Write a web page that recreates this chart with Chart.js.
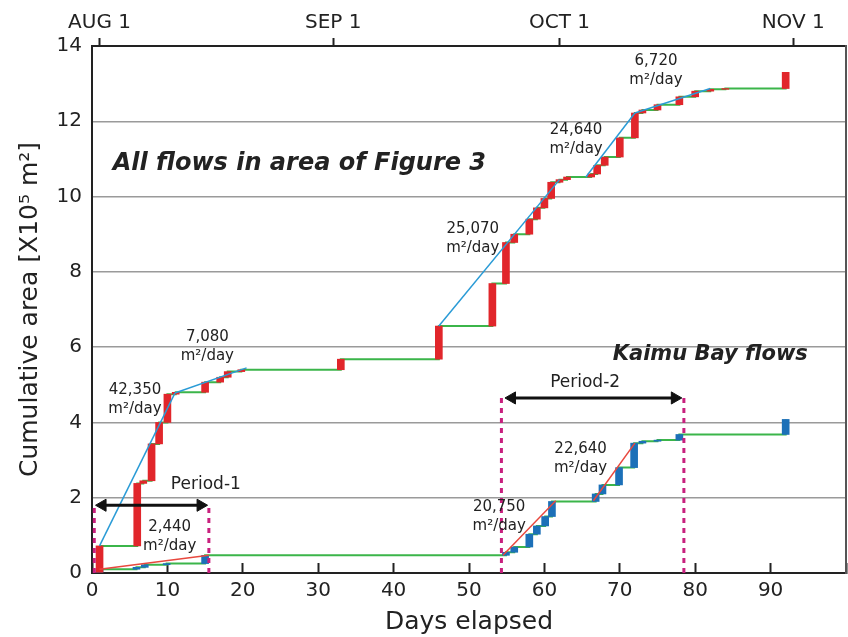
<!DOCTYPE html>
<html>
<head>
<meta charset="utf-8">
<script src="https://cdn.jsdelivr.net/npm/chart.js@4.4.1/dist/chart.umd.min.js"></script>
<style>
  html, body { margin: 0; padding: 0; background: #fff; }
  #wrap { width: 848px; height: 637px; }
</style>
</head>
<body>
<div id="wrap"><canvas id="areaChart"></canvas></div>
<script>
// All flows in area of Figure 3: day of each increment and cumulative area after it [x10^5 m2]
const allDays = [1, 6, 6.8, 7.9, 8.9, 10, 11.1, 15, 17, 18, 19.8, 33, 46, 53.1, 54.9, 56, 58, 59, 60, 60.9, 62, 63, 66.2, 67, 68, 70, 72, 73, 75, 77.9, 80, 82, 84, 92];
const allArea = [0.72, 2.38, 2.45, 3.43, 4.0, 4.75, 4.8, 5.07, 5.2, 5.35, 5.4, 5.68, 6.56, 7.69, 8.78, 9.0, 9.4, 9.7, 9.95, 10.38, 10.45, 10.52, 10.6, 10.83, 11.05, 11.56, 12.22, 12.3, 12.44, 12.65, 12.8, 12.85, 12.87, 13.3];

// Kaimu Bay flows
const kaimuDays = [1, 5.9, 7, 9.9, 15, 54.9, 56, 58, 59, 60.1, 61, 66.8, 67.7, 69.9, 71.9, 73, 75, 77.9, 92];
const kaimuArea = [0.1, 0.15, 0.22, 0.25, 0.47, 0.55, 0.69, 1.03, 1.25, 1.5, 1.9, 2.1, 2.34, 2.8, 3.45, 3.5, 3.53, 3.68, 4.08];

// fitted rate lines: [startDay, startArea, endDay, endArea]
const allFits = [[1, 0.72, 11, 4.78], [11, 4.78, 20.5, 5.45], [46, 6.56, 62, 10.45], [65.5, 10.52, 72, 12.22], [72, 12.22, 82, 12.87]];
const kaimuFits = [[1, 0.1, 15.5, 0.47], [54.5, 0.47, 61.5, 1.92], [66.5, 1.92, 72, 3.45]];
const allRates = ['42,350', '7,080', '25,070', '24,640', '6,720'];
const kaimuRates = ['2,440', '20,750', '22,640'];

// the two periods
const periodNames = ['Period-1', 'Period-2'];
const periodDays = [[0.3, 15.5], [54.3, 78.5]];
const periodTops = [1.85, 4.75];
const periodArrowDays = [[1.4, 14.4], [55.7, 77.3]];
const periodArrowArea = [1.8, 4.65];

// top axis
const monthDays = [1, 32, 62, 93];
const monthLabels = ['AUG 1', 'SEP 1', 'OCT 1', 'NOV 1'];

const FONT = 'DejaVu Sans';
const INK = '#222';

function stepPoints(days, area) {
    return days.map((d, i) => ({ x: d, y: area[i] }));
}
function jumpBars(days, area) {
    return days.map((d, i) => ({ x: d, y: [i ? area[i - 1] : 0, area[i]] }));
}
function fitSets(fits, color) {
    return fits.map(f => ({
        type: 'line',
        data: [{ x: f[0], y: f[1] }, { x: f[2], y: f[3] }],
        borderColor: color, borderWidth: 1.5, pointRadius: 0, order: 3
    }));
}

const datasets = [
    // flat stretches (green) under the jumps
    { type: 'line', data: stepPoints(allDays, allArea), stepped: true, borderColor: '#3bb54a', borderWidth: 2, pointRadius: 0, order: 6 },
    { type: 'line', data: stepPoints(kaimuDays, kaimuArea), stepped: true, borderColor: '#3bb54a', borderWidth: 2, pointRadius: 0, order: 6 },
    // each increment as a thick vertical bar
    { type: 'bar', data: jumpBars(allDays, allArea), backgroundColor: '#e1262b', barThickness: 7, grouped: false, order: 5 },
    { type: 'bar', data: jumpBars(kaimuDays, kaimuArea), backgroundColor: '#1c70b8', barThickness: 7, grouped: false, order: 5 },
    ...fitSets(allFits, '#2a9bd6'),
    ...fitSets(kaimuFits, '#e8483e')
];

// period bounds (dashed magenta) and arrows
periodDays.forEach((pd, p) => {
    pd.forEach(d => {
        datasets.push({
            type: 'line', data: [{ x: d, y: 0 }, { x: d, y: periodTops[p] }],
            borderColor: '#c8207e', borderWidth: 3, borderDash: [5, 5], pointRadius: 0, order: 2
        });
    });
    datasets.push({
        type: 'line',
        data: periodArrowDays[p].map(d => ({ x: d, y: periodArrowArea[p] })),
        borderColor: '#111', borderWidth: 3,
        pointStyle: 'triangle', pointRadius: 7, pointRotation: [270, 90],
        pointBackgroundColor: '#111', pointBorderColor: '#111', pointBorderWidth: 1,
        order: 1
    });
});

// text placed on the plot in data coordinates
const notes = {
    id: 'notes',
    afterDatasetsDraw(chart) {
        const { ctx, scales: { x, y } } = chart;
        const rateSpots = [[5.7, 4.85], [15.3, 6.26], [50.5, 9.13], [64.2, 11.76], [74.8, 13.59]];
        const kaimuSpots = [[10.3, 1.23], [54.0, 1.75], [64.8, 3.29]];
        ctx.save();
        ctx.fillStyle = INK;
        ctx.textAlign = 'center';
        ctx.textBaseline = 'middle';
        ctx.font = '15px "' + FONT + '"';
        const rate = (txt, spot) => {
            const px = x.getPixelForValue(spot[0]);
            const py = y.getPixelForValue(spot[1]);
            ctx.fillText(txt, px, py);
            ctx.fillText('m²/day', px, py + 19);
        };
        allRates.forEach((t, i) => rate(t, rateSpots[i]));
        kaimuRates.forEach((t, i) => rate(t, kaimuSpots[i]));

        ctx.font = '17px "' + FONT + '"';
        const periodSpots = [[15.1, 2.36], [65.4, 5.06]];
        periodNames.forEach((t, i) => {
            ctx.fillText(t, x.getPixelForValue(periodSpots[i][0]), y.getPixelForValue(periodSpots[i][1]));
        });

        ctx.font = 'italic bold 24px "' + FONT + '"';
        ctx.fillText('All flows in area of Figure 3', x.getPixelForValue(27.5), y.getPixelForValue(10.87));
        ctx.font = 'italic bold 21px "' + FONT + '"';
        ctx.fillText('Kaimu Bay flows', x.getPixelForValue(82), y.getPixelForValue(5.8));
        ctx.restore();
    }
};

Chart.defaults.font.family = FONT;
Chart.defaults.color = INK;

function noSidePadding(s) {
    s.paddingLeft = 0;
    s.paddingRight = 0;
}

new Chart(document.getElementById('areaChart'), {
    type: 'line',
    data: { datasets: datasets },
    options: {
        responsive: true,
        maintainAspectRatio: false,
        animation: false,
        layout: { autoPadding: false, padding: { top: 0, right: 2, left: 2, bottom: 0 } },
        plugins: { legend: { display: false }, tooltip: { enabled: false } },
        scales: {
            x: {
                type: 'linear', min: 0, max: 100, offset: false,
                afterFit: s => { s.height = 64; noSidePadding(s); },
                ticks: {
                    stepSize: 10, autoSkip: false, maxRotation: 0, padding: 16,
                    font: { size: 20 }, color: INK,
                    callback: v => (v < 100 ? v : '')
                },
                grid: { offset: false, drawOnChartArea: false, drawTicks: true, tickLength: -10, color: INK, tickWidth: 2 },
                border: { display: true, color: INK, width: 2 },
                title: { display: true, text: 'Days elapsed', font: { size: 25 }, color: INK, padding: { top: 0, bottom: 0 } }
            },
            x2: {
                type: 'linear', position: 'top', min: 0, max: 100, offset: false,
                afterBuildTicks: s => { s.ticks = monthDays.map(v => ({ value: v })); },
                afterFit: s => { s.height = 46; noSidePadding(s); },
                ticks: {
                    autoSkip: false, maxRotation: 0, padding: 3,
                    font: { size: 20 }, color: INK,
                    callback: (v, i) => monthLabels[i]
                },
                grid: { offset: false, drawOnChartArea: false, tickLength: 8, color: INK, tickWidth: 2 },
                border: { display: true, color: INK, width: 2 }
            },
            y: {
                min: 0, max: 14,
                afterFit: s => { s.width = 90; },
                ticks: { stepSize: 2, padding: 10, font: { size: 20 }, color: INK },
                grid: {
                    drawTicks: false, lineWidth: 1.5,
                    color: c => (c.tick.value === 0 || c.tick.value === 14 ? 'rgba(0,0,0,0)' : '#9a9a9a')
                },
                border: { display: true, color: INK, width: 2 },
                title: { display: true, text: 'Cumulative area [X10⁵ m²]', font: { size: 25 }, color: INK, padding: { top: 13, bottom: 0 } }
            },
            y2: {
                position: 'right', min: 0, max: 14,
                afterFit: s => { s.width = 0; },
                ticks: { display: false },
                grid: { display: false, drawTicks: false },
                border: { display: true, color: '#555', width: 2 }
            }
        }
    },
    plugins: [notes]
});
</script>
</body>
</html>
